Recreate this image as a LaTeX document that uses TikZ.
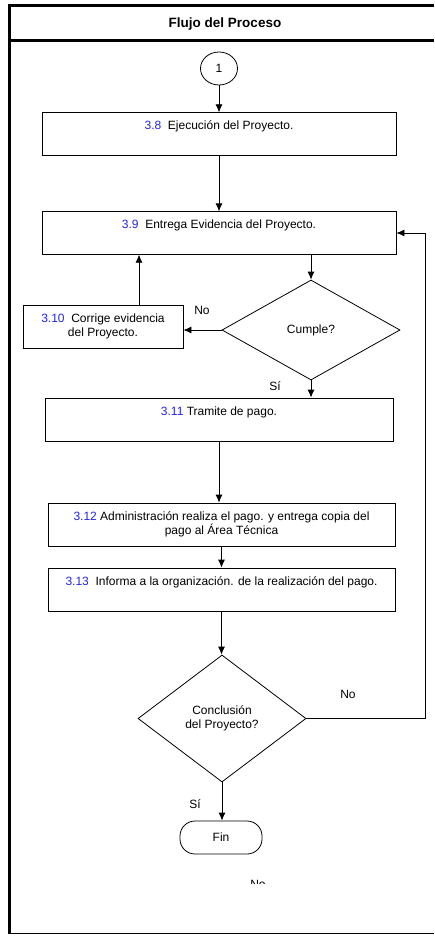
\documentclass[tikz,border=0pt]{standalone}
\usepackage{fontspec}
\setmainfont{Liberation Sans}
\usetikzlibrary{arrows.meta}
\usetikzlibrary{shapes.geometric}
\definecolor{numblue}{RGB}{35,35,235}
\newcommand{\paso}[1]{\textcolor{numblue}{#1}}
\tikzset{flecha/.style = {-{Latex[length=8pt,width=7pt]}, line width=0.8pt},
         caja/.style = {draw, rectangle, line width=0.8pt, inner sep=0pt, align=center,
                        font=\fontsize{12}{14}\selectfont},
         cajaalta/.style = {caja, text height=17pt, text depth=25.5pt},
         rombo/.style = {draw, diamond, line width=0.8pt, inner sep=0pt, align=center,
                         font=\fontsize{12}{14}\selectfont},
         etiqueta/.style = {inner sep=0pt, font=\fontsize{12}{14}\selectfont}}

\begin{document}
\begin{tikzpicture}[x=1pt, y=-1pt]
    \useasboundingbox (0, 0) rectangle (434, 936);
    \draw [line width=3pt] (434, 5.5) -- (9.5, 5.5) -- (9.5, 933.5);
    \draw [line width=1.5pt] (8, 933.5) -- (434, 933.5);
    \draw [line width=3pt] (8, 41) -- (434, 41);
    \node (titulo) at (225, 24) {\fontsize{13.5}{16}\selectfont\bfseries Flujo del Proceso};

    \node [draw, ellipse, line width=0.8pt, minimum width=37pt, minimum height=33pt,
           font=\fontsize{12}{14}\selectfont] (uno) at (219, 68.5) {1};
    \node [cajaalta, minimum width=354pt, minimum height=42pt] (ejecucion) at (219, 134)
          {\paso{3.8}~ Ejecución del Proyecto.};
    \node [cajaalta, minimum width=354pt, minimum height=42pt] (entrega) at (219, 233)
          {\paso{3.9}~ Entrega Evidencia del Proyecto.};
    \node [rombo, minimum width=178pt, minimum height=100pt] (cumple) at (311, 330) {Cumple?};
    \node [caja, minimum width=160pt, minimum height=43pt] (corrige) at (103, 326.5)
          {\paso{3.10}~ Corrige evidencia\\del Proyecto.};
    \node [cajaalta, minimum width=348pt, minimum height=43pt] (tramite) at (219, 419.5)
          {\paso{3.11} Tramite de pago.};
    \node [caja, minimum width=347pt, minimum height=43pt] (pago) at (221.5, 524.5)
          {\paso{3.12} Administración realiza el pago. y entrega copia del\\pago al Área Técnica};
    \node [cajaalta, minimum width=347pt, minimum height=43pt] (informa) at (221.5, 589.5)
          {\paso{3.13}~ Informa a la organización. de la realización del pago.};
    \node [rombo, minimum width=168pt, minimum height=127pt] (conclusion) at (222, 718.5)
          {Conclusión\\del Proyecto?};
    \node [caja, rounded corners=15pt, minimum width=82pt, minimum height=33pt] (fin)
          at (221, 837.5) {Fin};

    \draw [flecha] (uno) -- (ejecucion);
    \draw [flecha] (ejecucion) -- (entrega);
    \draw [flecha] (entrega.south -| cumple.north) -- (cumple.north);
    \draw [flecha] (cumple.west) -- (cumple.west -| corrige.east);
    \coordinate (subida) at ([xshift=36pt]corrige.north);
    \draw [flecha] (subida) -- (subida |- entrega.south);
    \draw [flecha] (cumple.south) -- (cumple.south |- tramite.north);
    \draw [flecha] (tramite.south) -- (tramite.south |- pago.north);
    \draw [flecha] (pago.south) -- (pago.south |- informa.north);
    \draw [flecha] (informa.south) -- (informa.south |- conclusion.north);
    \draw [flecha] (conclusion.south) -- (conclusion.south |- fin.north);
    \coordinate (retorno) at (425, 0);
    \draw [flecha] (conclusion.east) -- (conclusion.east -| retorno)
          -- (retorno |- entrega.east) -- (entrega.east);

    \node [etiqueta] (no1) at (202, 310) {No};
    \node [etiqueta] (si1) at (275, 386) {Sí};
    \node [etiqueta] (no2) at (348, 694) {No};
    \node [etiqueta] (si2) at (195, 804) {Sí};
    \begin{scope}
      \clip (240, 870) rectangle (280, 883.5);
      \node [etiqueta] (no3) at (258, 884.5) {No};
    \end{scope}
\end{tikzpicture}
\end{document}
